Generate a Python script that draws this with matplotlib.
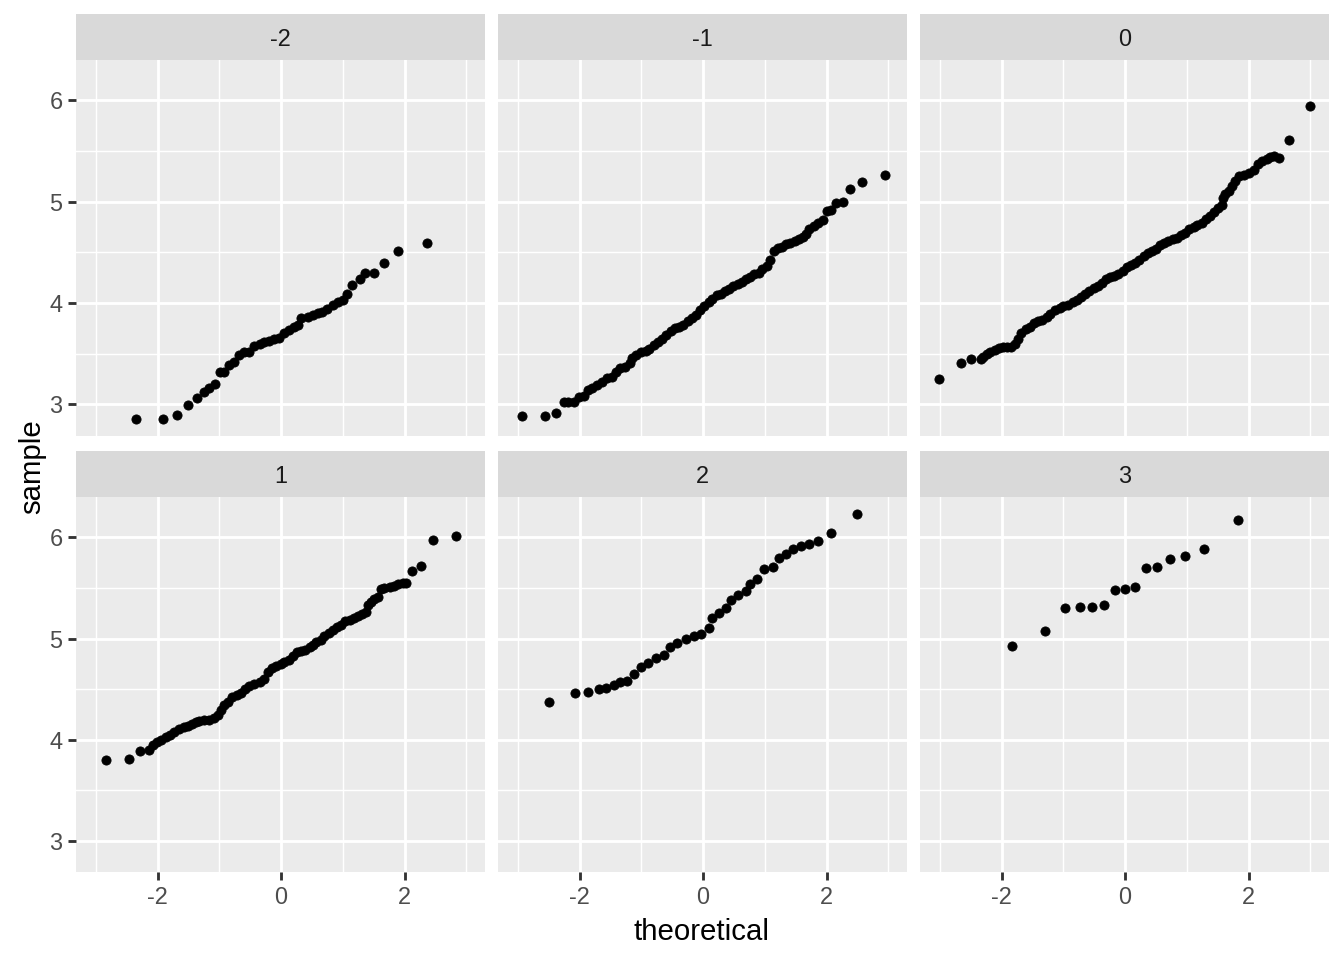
import matplotlib

matplotlib.use("Agg")
import matplotlib.pyplot as plt
import numpy as np

# facet labels
facets = ["-2", "-1", "0", "1", "2", "3"]

# theoretical / sample quantile pairs, one pair of lists per facet
theo_m2 = [-2.35, -1.91, -1.69, -1.50, -1.37, -1.25, -1.16, -1.07, -0.99, -0.92,
           -0.84, -0.76, -0.68, -0.60, -0.52, -0.44, -0.35, -0.27, -0.19, -0.11,
           -0.03, 0.05, 0.13, 0.21, 0.28, 0.32, 0.43, 0.51, 0.59, 0.67,
           0.75, 0.84, 0.92, 1.00, 1.07, 1.14, 1.27, 1.36, 1.51, 1.67,
           1.90, 2.36]
samp_m2 = [2.86, 2.86, 2.90, 2.99, 3.06, 3.12, 3.16, 3.20, 3.32, 3.32,
           3.39, 3.42, 3.49, 3.52, 3.52, 3.58, 3.60, 3.62, 3.63, 3.65,
           3.66, 3.70, 3.73, 3.76, 3.78, 3.85, 3.86, 3.88, 3.90, 3.91,
           3.94, 3.98, 4.01, 4.03, 4.09, 4.18, 4.24, 4.30, 4.30, 4.40,
           4.51, 4.59]

theo_m1 = [-2.93, -2.56, -2.39, -2.26, -2.18, -2.09, -2.01, -1.93, -1.86, -1.80,
           -1.72, -1.63, -1.55, -1.47, -1.41, -1.34, -1.26, -1.19, -1.15, -1.08,
           -1.01, -0.93, -0.87, -0.80, -0.73, -0.66, -0.60, -0.52, -0.45, -0.39,
           -0.32, -0.25, -0.18, -0.12, -0.05, 0.02, 0.09, 0.15, 0.22, 0.29,
           0.36, 0.42, 0.49, 0.56, 0.63, 0.69, 0.76, 0.83, 0.90, 0.96,
           1.03, 1.08, 1.14, 1.21, 1.28, 1.34, 1.41, 1.48, 1.55, 1.61,
           1.67, 1.72, 1.79, 1.86, 1.94, 2.00, 2.07, 2.15, 2.26, 2.38,
           2.58, 2.94]
samp_m1 = [2.89, 2.89, 2.92, 3.02, 3.02, 3.02, 3.07, 3.08, 3.14, 3.16,
           3.19, 3.22, 3.26, 3.27, 3.32, 3.36, 3.37, 3.41, 3.46, 3.49,
           3.52, 3.53, 3.55, 3.59, 3.62, 3.65, 3.69, 3.72, 3.75, 3.76,
           3.78, 3.82, 3.85, 3.88, 3.93, 3.97, 4.01, 4.04, 4.08, 4.09,
           4.12, 4.14, 4.17, 4.19, 4.21, 4.24, 4.26, 4.29, 4.30, 4.34,
           4.37, 4.43, 4.51, 4.54, 4.55, 4.58, 4.59, 4.61, 4.63, 4.65,
           4.68, 4.73, 4.76, 4.79, 4.82, 4.91, 4.92, 4.99, 5.00, 5.13,
           5.19, 5.26]

theo_0 = [-3.02, -2.66, -2.49, -2.34, -2.30, -2.24, -2.18, -2.11, -2.04, -1.97,
          -1.91, -1.84, -1.78, -1.73, -1.68, -1.61, -1.54, -1.48, -1.41, -1.34,
          -1.27, -1.21, -1.14, -1.06, -1.00, -0.92, -0.85, -0.78, -0.72, -0.65,
          -0.58, -0.51, -0.44, -0.38, -0.31, -0.24, -0.18, -0.11, -0.04, 0.03,
          0.09, 0.16, 0.23, 0.30, 0.37, 0.43, 0.50, 0.57, 0.63, 0.70,
          0.77, 0.84, 0.90, 0.97, 1.04, 1.11, 1.17, 1.24, 1.31, 1.38,
          1.44, 1.51, 1.57, 1.58, 1.62, 1.68, 1.73, 1.78, 1.85, 1.92,
          2.00, 2.08, 2.15, 2.22, 2.30, 2.35, 2.41, 2.49, 2.65, 3.00]
samp_0 = [3.25, 3.41, 3.45, 3.45, 3.47, 3.50, 3.52, 3.54, 3.56, 3.57,
          3.57, 3.57, 3.60, 3.65, 3.70, 3.74, 3.76, 3.80, 3.82, 3.83,
          3.86, 3.89, 3.93, 3.95, 3.97, 3.98, 4.01, 4.03, 4.06, 4.09,
          4.12, 4.15, 4.17, 4.20, 4.24, 4.26, 4.27, 4.29, 4.32, 4.36,
          4.38, 4.40, 4.43, 4.46, 4.49, 4.51, 4.53, 4.57, 4.59, 4.61,
          4.63, 4.64, 4.67, 4.69, 4.73, 4.75, 4.77, 4.79, 4.83, 4.86,
          4.90, 4.94, 4.97, 5.04, 5.08, 5.11, 5.16, 5.20, 5.25, 5.26,
          5.28, 5.31, 5.37, 5.40, 5.42, 5.44, 5.45, 5.43, 5.61, 5.94]

theo_p1 = [-2.83, -2.46, -2.28, -2.14, -2.07, -2.01, -1.94, -1.87, -1.80, -1.73,
           -1.65, -1.57, -1.50, -1.44, -1.38, -1.33, -1.25, -1.17, -1.09, -1.03,
           -0.98, -0.92, -0.86, -0.79, -0.72, -0.65, -0.59, -0.52, -0.44, -0.35,
           -0.28, -0.22, -0.15, -0.08, -0.01, 0.05, 0.12, 0.19, 0.26, 0.32,
           0.39, 0.46, 0.51, 0.57, 0.64, 0.70, 0.77, 0.84, 0.91, 0.97,
           1.04, 1.11, 1.18, 1.24, 1.31, 1.38, 1.40, 1.45, 1.51, 1.57,
           1.61, 1.67, 1.76, 1.83, 1.89, 1.97, 2.03, 2.12, 2.26, 2.46,
           2.83]
samp_p1 = [3.80, 3.81, 3.89, 3.90, 3.95, 3.98, 4.00, 4.03, 4.05, 4.08,
           4.11, 4.13, 4.14, 4.16, 4.18, 4.19, 4.20, 4.20, 4.22, 4.25,
           4.29, 4.34, 4.37, 4.42, 4.44, 4.46, 4.50, 4.53, 4.55, 4.57,
           4.60, 4.67, 4.71, 4.73, 4.75, 4.77, 4.79, 4.83, 4.87, 4.88,
           4.89, 4.92, 4.94, 4.97, 4.99, 5.03, 5.06, 5.08, 5.11, 5.13,
           5.17, 5.18, 5.20, 5.22, 5.24, 5.26, 5.33, 5.36, 5.39, 5.41,
           5.49, 5.50, 5.51, 5.52, 5.54, 5.55, 5.55, 5.67, 5.72, 5.97,
           6.01]

theo_p2 = [-2.49, -2.07, -1.86, -1.69, -1.57, -1.44, -1.34, -1.23, -1.12, -1.01,
           -0.90, -0.77, -0.63, -0.54, -0.42, -0.28, -0.15, -0.04, 0.09, 0.14,
           0.26, 0.37, 0.45, 0.56, 0.69, 0.76, 0.88, 0.99, 1.13, 1.23,
           1.35, 1.46, 1.59, 1.71, 1.86, 2.07, 2.49]
samp_p2 = [4.37, 4.46, 4.47, 4.50, 4.51, 4.54, 4.57, 4.58, 4.65, 4.72,
           4.76, 4.81, 4.84, 4.92, 4.96, 5.00, 5.03, 5.05, 5.10, 5.20,
           5.25, 5.30, 5.38, 5.43, 5.47, 5.54, 5.59, 5.69, 5.71, 5.80,
           5.84, 5.88, 5.91, 5.93, 5.96, 6.04, 6.23]

theo_p3 = [-1.83, -1.29, -0.98, -0.73, -0.54, -0.35, -0.16, 0.00, 0.16, 0.34,
           0.51, 0.72, 0.97, 1.27, 1.83]
samp_p3 = [4.93, 5.07, 5.30, 5.31, 5.31, 5.33, 5.48, 5.49, 5.51, 5.70,
           5.71, 5.79, 5.82, 5.88, 6.17]

x_ticks = [-2, 0, 2]
y_ticks = [3, 4, 5, 6]

theo = [theo_m2, theo_m1, theo_0, theo_p1, theo_p2, theo_p3]
samp = [samp_m2, samp_m1, samp_0, samp_p1, samp_p2, samp_p3]

plt.rcParams["font.family"] = ["Liberation Sans", "DejaVu Sans"]
plt.rcParams["axes.unicode_minus"] = False

W, H = 1344, 960
fig = plt.figure(figsize=(7, 5), dpi=192)

# shared scales with ggplot-like 5% expansion
all_x = np.concatenate([np.asarray(t) for t in theo])
all_y = np.concatenate([np.asarray(s) for s in samp])
xpad = 0.05 * (all_x.max() - all_x.min())
ypad = 0.05 * (all_y.max() - all_y.min())
xlim = (all_x.min() - xpad, all_x.max() + xpad)
ylim = (all_y.min() - ypad, all_y.max() + ypad)

col_left = [76, 498, 920]
panel_w = 409
rows = [(14, 60, 435.7), (451, 497, 872.3)]  # strip top, panel top, panel bottom

line_w = 1.07
for i, label in enumerate(facets):
    r, c = divmod(i, 3)
    strip_top, top, bottom = rows[r]
    left = col_left[c]

    ax = fig.add_axes([left / W, 1 - bottom / H, panel_w / W, (bottom - top) / H])
    ax.set_facecolor("#EBEBEB")
    ax.set_xlim(*xlim)
    ax.set_ylim(*ylim)
    ax.set_xticks(x_ticks)
    ax.set_yticks(y_ticks)
    ax.set_xticks([-3, -1, 1, 3], minor=True)
    ax.set_yticks([3.5, 4.5, 5.5], minor=True)
    ax.grid(True, which="major", color="white", linewidth=line_w)
    ax.grid(True, which="minor", color="white", linewidth=line_w / 2)
    ax.set_axisbelow(True)
    for sp in ax.spines.values():
        sp.set_visible(False)
    ax.tick_params(which="minor", length=0)
    ax.tick_params(which="major", length=2.9, width=line_w, color="#333333",
                   labelsize=8.8, labelcolor="#4D4D4D", pad=2.2)
    if r == 0:
        ax.tick_params(axis="x", which="major", length=0, labelbottom=False)
    if c > 0:
        ax.tick_params(axis="y", which="major", length=0, labelleft=False)

    ax.plot(theo[i], samp[i], linestyle="none", marker="o", markersize=3.45,
            markeredgewidth=0.3, color="black")

    sax = fig.add_axes([left / W, 1 - top / H, panel_w / W, (top - strip_top) / H])
    sax.set_facecolor("#D9D9D9")
    sax.set_xticks([])
    sax.set_yticks([])
    for sp in sax.spines.values():
        sp.set_visible(False)
    sax.text(0.5, 0.44, label, ha="center", va="center", fontsize=8.8,
             color="#1A1A1A", transform=sax.transAxes)

fig.text(701.5 / W, 1 - 932 / H, "theoretical", ha="center", va="center", fontsize=11)
fig.text(32 / W, 1 - 467 / H, "sample", ha="center", va="center", fontsize=11,
         rotation=90)

fig.savefig("out.png", dpi=192)
